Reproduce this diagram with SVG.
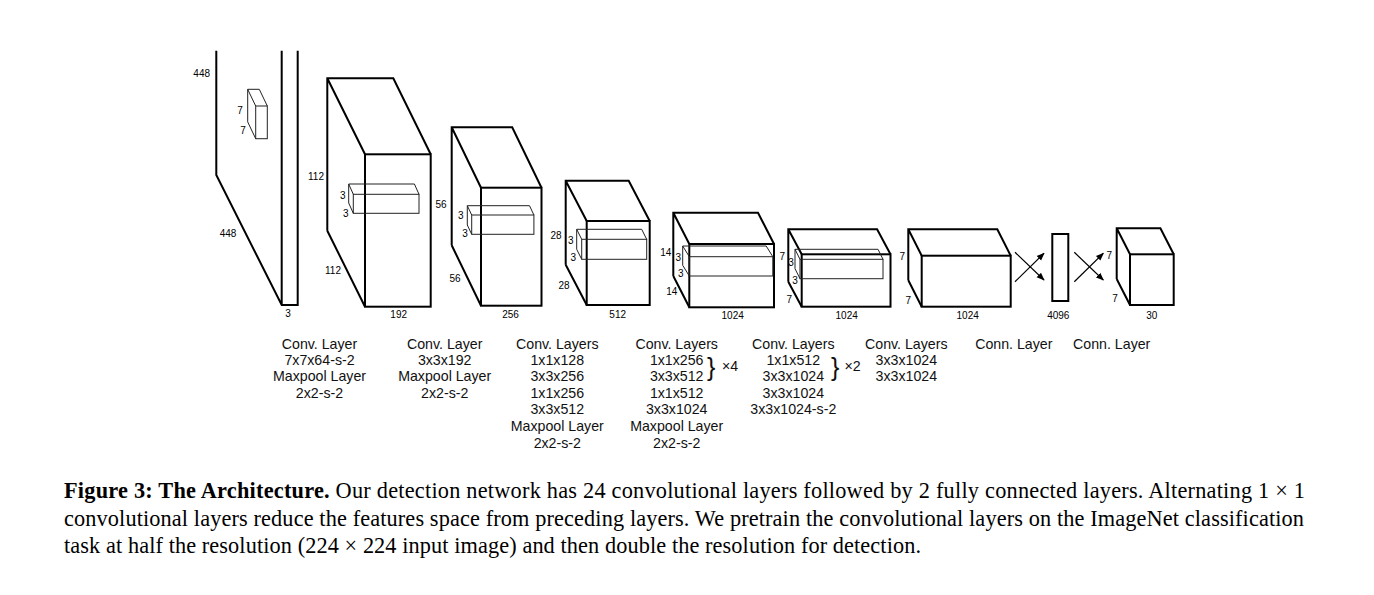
<svg xmlns="http://www.w3.org/2000/svg" width="1374" height="595" viewBox="0 0 1374 595">
<style>
.blk{fill:none;stroke:#000;stroke-width:2;stroke-linejoin:miter}
.sb{fill:none;stroke:#222;stroke-width:1}
.dim{font-family:"Liberation Sans",Arial,sans-serif;font-size:10px;fill:#000;text-anchor:middle;dominant-baseline:central}
.lbl{font-family:"Liberation Sans",Arial,sans-serif;font-size:14.2px;fill:#111;text-anchor:middle}
.br{font-family:"Liberation Sans",Arial,sans-serif;font-size:25px;fill:#111}
.cap{font-family:"Liberation Serif","Times New Roman",serif;font-size:22.3px;fill:#000}
.arr{stroke:#000;stroke-width:1.2;fill:none;marker-end:url(#ah)}
</style>
<defs>
<marker id="ah" viewBox="0 0 10 10" refX="9" refY="5" markerWidth="8" markerHeight="8" orient="auto" markerUnits="userSpaceOnUse"><path d="M0,1 L10,5 L0,9 z" fill="#000"/></marker>
</defs>
<rect width="1374" height="595" fill="#fff"/>

<g id="input">
<path class="blk" d="M216.3,50.7 L216.3,175 L281.7,305 L297.7,305 L297.7,50.7 M281.7,50.7 L281.7,305"/>
<path class="sb" d="M247.7,121.9 L247.7,89.3 L259.3,89.3 L267.3,106 M247.7,89.3 L255.7,106 M247.7,121.9 L255.7,138.7"/>
<rect class="sb" x="255.7" y="106" width="11.6" height="32.7"/>
<text class="dim" x="201.7" y="73">448</text>
<text class="dim" x="240" y="110">7</text>
<text class="dim" x="243" y="130">7</text>
<text class="dim" x="228" y="233">448</text>
<text class="dim" x="288" y="313">3</text>
</g>

<g id="block2">
<path class="blk" d="M327.3,230.7 L327.3,78.3 L393.3,78.3 L430.7,154.3 M327.3,78.3 L365,154.3 M327.3,230.7 L365,306.7"/>
<rect class="blk" x="365" y="154.3" width="65.7" height="152.4"/>
<path class="sb" d="M348.7,203 L348.7,184 L414.4,184 L419,194.3 M348.7,184 L353.3,194.3 M348.7,203 L353.3,213.3"/>
<rect class="sb" x="353.3" y="194.3" width="65.7" height="19"/>
<text class="dim" x="316" y="176.7">112</text>
<text class="dim" x="342.7" y="195">3</text>
<text class="dim" x="345.7" y="213">3</text>
<text class="dim" x="333" y="270">112</text>
<text class="dim" x="398.7" y="314">192</text>
</g>

<g id="block3">
<path class="blk" d="M451.7,245.3 L451.7,127.3 L512.2,127.3 L541.5,187.7 M451.7,127.3 L481,187.7 M451.7,245.3 L481,305.7"/>
<rect class="blk" x="481" y="187.7" width="60.5" height="118"/>
<path class="sb" d="M467.3,225 L467.3,205.7 L529.5,205.7 L533.9,215 M467.3,205.7 L471.7,215 M467.3,225 L471.7,234.3"/>
<rect class="sb" x="471.7" y="215" width="62.2" height="19.3"/>
<text class="dim" x="441" y="204">56</text>
<text class="dim" x="460.7" y="215">3</text>
<text class="dim" x="465" y="233.3">3</text>
<text class="dim" x="455" y="278">56</text>
<text class="dim" x="510.5" y="314">256</text>
</g>

<g id="block4">
<path class="blk" d="M565.7,264.7 L565.7,180.7 L628.7,180.7 L649.7,221 M565.7,180.7 L586.7,221 M565.7,264.7 L586.7,305"/>
<rect class="blk" x="586.7" y="221" width="63" height="84"/>
<path class="sb" d="M576.7,249.3 L576.7,229.3 L641.7,229.3 L646.7,239.3 M576.7,229.3 L581.7,239.3 M576.7,249.3 L581.7,259.3"/>
<rect class="sb" x="581.7" y="239.3" width="65" height="20"/>
<text class="dim" x="556" y="235">28</text>
<text class="dim" x="570.7" y="240.7">3</text>
<text class="dim" x="573.3" y="257.3">3</text>
<text class="dim" x="564" y="285.7">28</text>
<text class="dim" x="617.7" y="314">512</text>
</g>

<g id="block5">
<path class="blk" d="M673.3,276 L673.3,212.7 L758,212.7 L774,244 M673.3,212.7 L689.3,244 M673.3,276 L689.3,307.3"/>
<rect class="blk" x="689.3" y="244" width="84.7" height="63.3"/>
<path class="sb" d="M682.7,265.3 L682.7,246 L766.2,246 L772.8,256.7 M682.7,246 L689.3,256.7 M682.7,265.3 L689.3,276"/>
<rect class="sb" x="689.3" y="256.7" width="83.5" height="19.3"/>
<text class="dim" x="665.7" y="252.7">14</text>
<text class="dim" x="678.3" y="257.7">3</text>
<text class="dim" x="680.7" y="273.3">3</text>
<text class="dim" x="671.7" y="291.7">14</text>
<text class="dim" x="732.7" y="315">1024</text>
</g>

<g id="block6">
<path class="blk" d="M788.3,281.7 L788.3,229.3 L877.1,229.3 L890.5,254.3 M788.3,229.3 L801.7,254.3 M788.3,281.7 L801.7,306.7"/>
<rect class="blk" x="801.7" y="254.3" width="88.8" height="52.4"/>
<path class="sb" d="M795,268.7 L795,249.3 L878,249.3 L883,259.3 M795,249.3 L800,259.3 M795,268.7 L800,278.7"/>
<rect class="sb" x="800" y="259.3" width="83" height="19.4"/>
<text class="dim" x="782.3" y="256.7">7</text>
<text class="dim" x="791" y="262.3">3</text>
<text class="dim" x="795" y="280">3</text>
<text class="dim" x="789.3" y="299">7</text>
<text class="dim" x="846.7" y="315">1024</text>
</g>

<g id="block7">
<path class="blk" d="M908.3,280.3 L908.3,229.3 L997.3,229.3 L1010.7,255.7 M908.3,229.3 L921.7,255.7 M908.3,280.3 L921.7,306.7"/>
<rect class="blk" x="921.7" y="255.7" width="89" height="51"/>
<text class="dim" x="902.3" y="256.7">7</text>
<text class="dim" x="908.3" y="300">7</text>
<text class="dim" x="967.7" y="315">1024</text>
</g>

<g id="fc4096">
<rect class="blk" x="1052.3" y="234" width="16" height="67"/>
<text class="dim" x="1058.3" y="315">4096</text>
</g>

<g id="output">
<path class="blk" d="M1116.7,279 L1116.7,228.3 L1160.4,228.3 L1173.7,254.3 M1116.7,228.3 L1130,254.3 M1116.7,279 L1130,305"/>
<rect class="blk" x="1130" y="254.3" width="43.7" height="50.7"/>
<text class="dim" x="1109.3" y="255.7">7</text>
<text class="dim" x="1115" y="298.3">7</text>
<text class="dim" x="1151.7" y="315">30</text>
</g>

<g id="connectors">
<line class="arr" x1="1015" y1="252.3" x2="1044" y2="280"/>
<line class="arr" x1="1015" y1="281.7" x2="1044" y2="253.3"/>
<line class="arr" x1="1074.3" y1="252.3" x2="1103.3" y2="280"/>
<line class="arr" x1="1074.3" y1="281.7" x2="1103.3" y2="253.3"/>
</g>

<g id="labels">
<text class="lbl" x="319.5" y="348.8">Conv. Layer</text>
<text class="lbl" x="319.5" y="365">7x7x64-s-2</text>
<text class="lbl" x="319.5" y="381.4">Maxpool Layer</text>
<text class="lbl" x="319.5" y="397.7">2x2-s-2</text>

<text class="lbl" x="444.7" y="348.8">Conv. Layer</text>
<text class="lbl" x="444.7" y="365">3x3x192</text>
<text class="lbl" x="444.7" y="381.4">Maxpool Layer</text>
<text class="lbl" x="444.7" y="397.7">2x2-s-2</text>

<text class="lbl" x="557.3" y="348.8">Conv. Layers</text>
<text class="lbl" x="557.3" y="365">1x1x128</text>
<text class="lbl" x="557.3" y="381.4">3x3x256</text>
<text class="lbl" x="557.3" y="397.7">1x1x256</text>
<text class="lbl" x="557.3" y="414.2">3x3x512</text>
<text class="lbl" x="557.3" y="431.2">Maxpool Layer</text>
<text class="lbl" x="557.3" y="448">2x2-s-2</text>

<text class="lbl" x="676.7" y="348.8">Conv. Layers</text>
<text class="lbl" x="676.7" y="365">1x1x256</text>
<text class="lbl" x="676.7" y="381.4">3x3x512</text>
<text class="br" x="707" y="376">}</text>
<text class="lbl" x="730" y="371.4">×4</text>
<text class="lbl" x="676.7" y="397.7">1x1x512</text>
<text class="lbl" x="676.7" y="414.2">3x3x1024</text>
<text class="lbl" x="676.7" y="431.2">Maxpool Layer</text>
<text class="lbl" x="676.7" y="448">2x2-s-2</text>

<text class="lbl" x="793.3" y="348.8">Conv. Layers</text>
<text class="lbl" x="793.3" y="365">1x1x512</text>
<text class="lbl" x="793.3" y="381.4">3x3x1024</text>
<text class="br" x="831" y="376">}</text>
<text class="lbl" x="852.5" y="371.4">×2</text>
<text class="lbl" x="793.3" y="397.7">3x3x1024</text>
<text class="lbl" x="793.3" y="414.2">3x3x1024-s-2</text>

<text class="lbl" x="906.3" y="348.8">Conv. Layers</text>
<text class="lbl" x="906.3" y="365">3x3x1024</text>
<text class="lbl" x="906.3" y="381.4">3x3x1024</text>

<text class="lbl" x="1013.8" y="348.8">Conn. Layer</text>
<text class="lbl" x="1111.7" y="348.8">Conn. Layer</text>
</g>

<g id="caption">
<text class="cap" x="64" y="498" textLength="1241" lengthAdjust="spacing"><tspan font-weight="bold">Figure 3: The Architecture.</tspan> Our detection network has 24 convolutional layers followed by 2 fully connected layers. Alternating 1 × 1</text>
<text class="cap" x="64" y="526" textLength="1240" lengthAdjust="spacing">convolutional layers reduce the features space from preceding layers. We pretrain the convolutional layers on the ImageNet classification</text>
<text class="cap" x="64" y="553" textLength="857" lengthAdjust="spacing">task at half the resolution (224 × 224 input image) and then double the resolution for detection.</text>
</g>
</svg>
